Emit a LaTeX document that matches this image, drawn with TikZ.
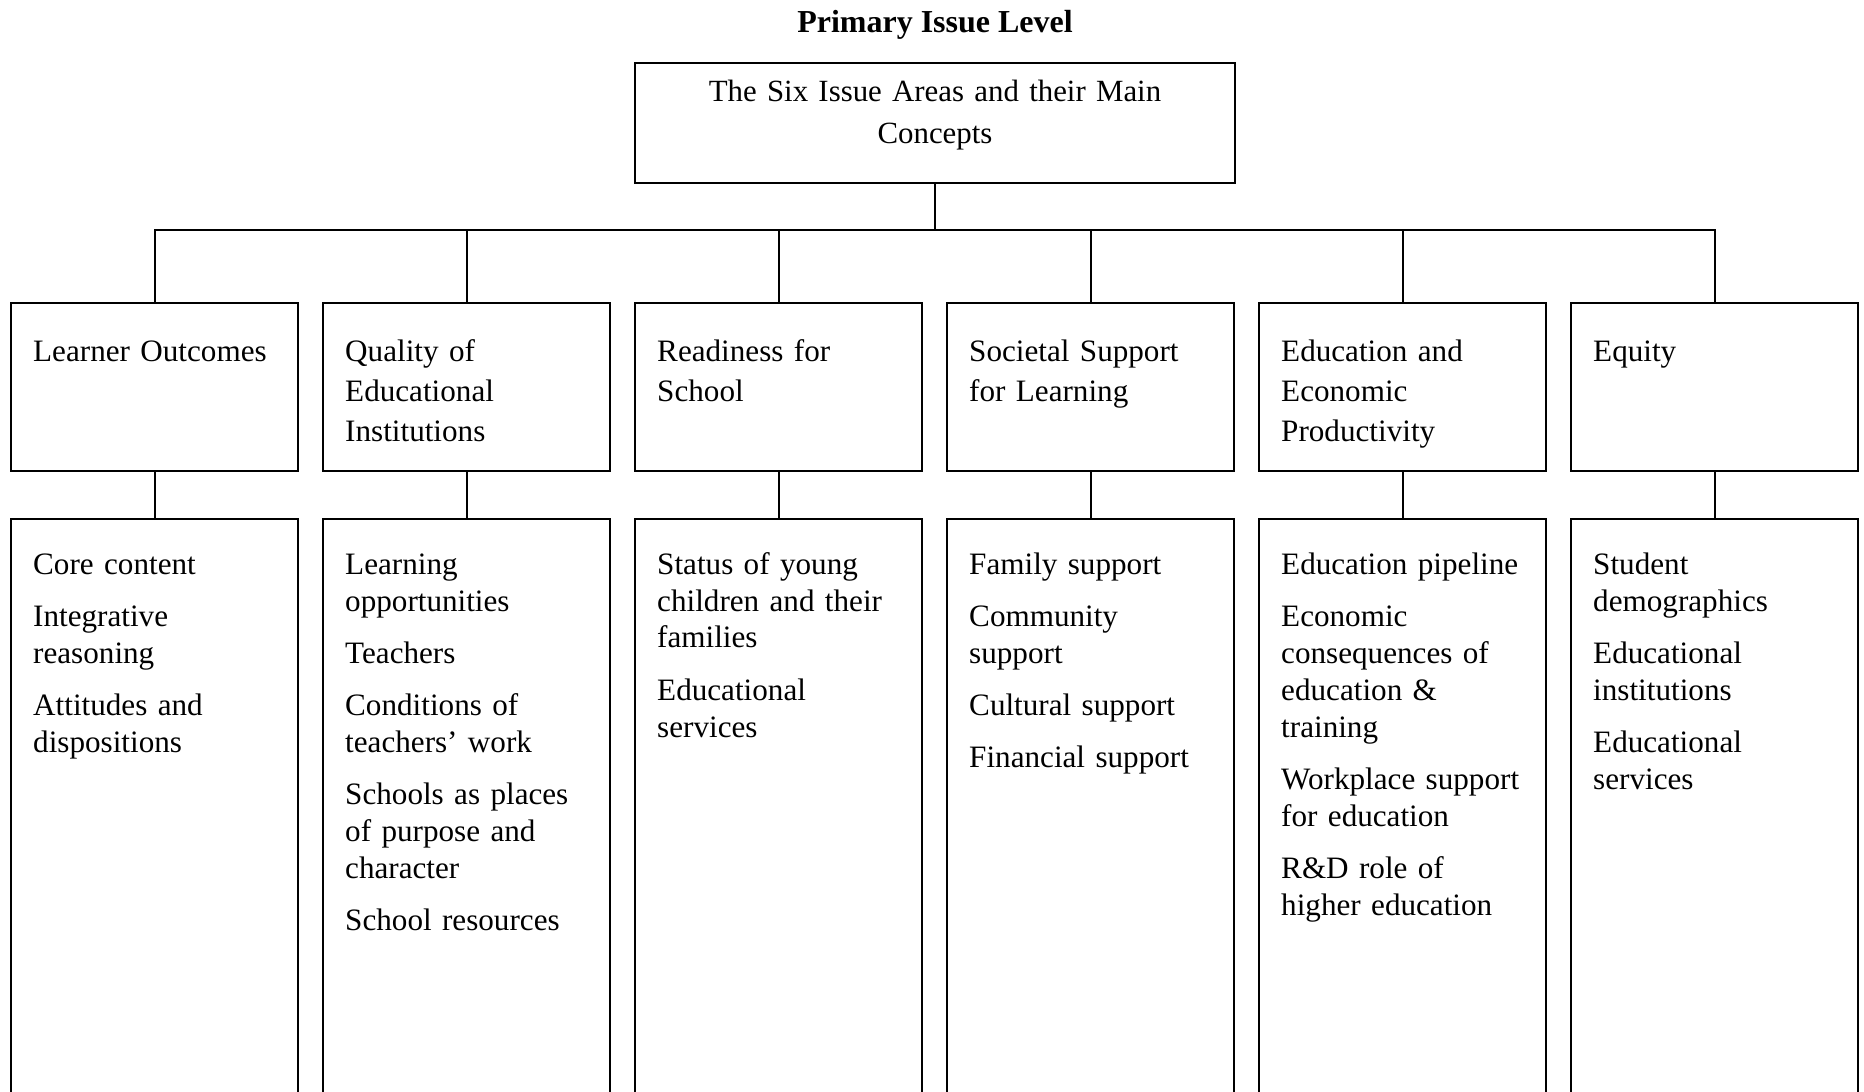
\documentclass[tikz,border=0pt]{standalone}
\usepackage{fontspec}
\setmainfont{Liberation Serif}
\begin{document}
\begin{tikzpicture}[x=0.35pt,y=-0.35pt,line width=0.7pt,line cap=rect]
  \tikzset{areabox/.style={draw,anchor=north,inner ysep=0pt,inner xsep=7.9pt,text width=84.9pt,align=left,
             font=\fontsize{10.9}{13.9}\selectfont,text height=20.6pt,text depth=38.2pt},
           conceptbox/.style={areabox,font=\fontsize{10.9}{12.9}\selectfont,text height=19.3pt,text depth=187.7pt}}
  \useasboundingbox (0,0) rectangle (1864,1091);
  \node[anchor=base,font=\bfseries\fontsize{11.2}{13.9}\selectfont] (title) at (935,32.5) {Primary Issue Level};
  \node[draw,anchor=north,inner ysep=0pt,inner xsep=6pt,text width=198pt,align=center,
        font=\fontsize{10.8}{15}\selectfont,text height=13.3pt,text depth=28.7pt] (six) at (935,62)
       {The Six Issue Areas and their Main\\Concepts};
  \coordinate (bus) at (0,229.5);
  % issue areas
  \foreach \i/\txt in {1/{Learner Outcomes},
                       2/{Quality of\\Educational\\Institutions},
                       3/{Readiness for\\School},
                       4/{Societal Support\\for Learning},
                       5/{Education and\\Economic\\Productivity},
                       6/{Equity}}
    \node[areabox] (a\i) at ({154.5+312*(\i-1)},302) {\txt};
  % main concepts
  \foreach \i/\txt in {1/{Core content\\[5.4pt]Integrative\\reasoning\\[5.4pt]Attitudes and\\dispositions},
                       2/{Learning\\opportunities\\[5.4pt]Teachers\\[5.4pt]Conditions of\\teachers’ work\\[5.4pt]Schools as places\\of purpose and\\character\\[5.4pt]School resources},
                       3/{Status of young\\children and their\\families\\[5.4pt]Educational\\services},
                       4/{Family support\\[5.4pt]Community\\support\\[5.4pt]Cultural support\\[5.4pt]Financial support},
                       5/{Education pipeline\\[5.4pt]Economic\\consequences of\\education \&\\training\\[5.4pt]Workplace support\\for education\\[5.4pt]R\&D role of\\higher education},
                       6/{Student\\demographics\\[5.4pt]Educational\\institutions\\[5.4pt]Educational\\services}}
    \node[conceptbox] (c\i) at ({154.5+312*(\i-1)},518) {\txt};
  % connectors
  \draw (six.south) -- (six.south |- bus);
  \draw (a1.north |- bus) -- (a6.north |- bus);
  \foreach \i in {1,...,6}{
    \draw (a\i.north) -- (a\i.north |- bus);
    \draw (a\i.south) -- (c\i.north);
  }
\end{tikzpicture}
\end{document}
